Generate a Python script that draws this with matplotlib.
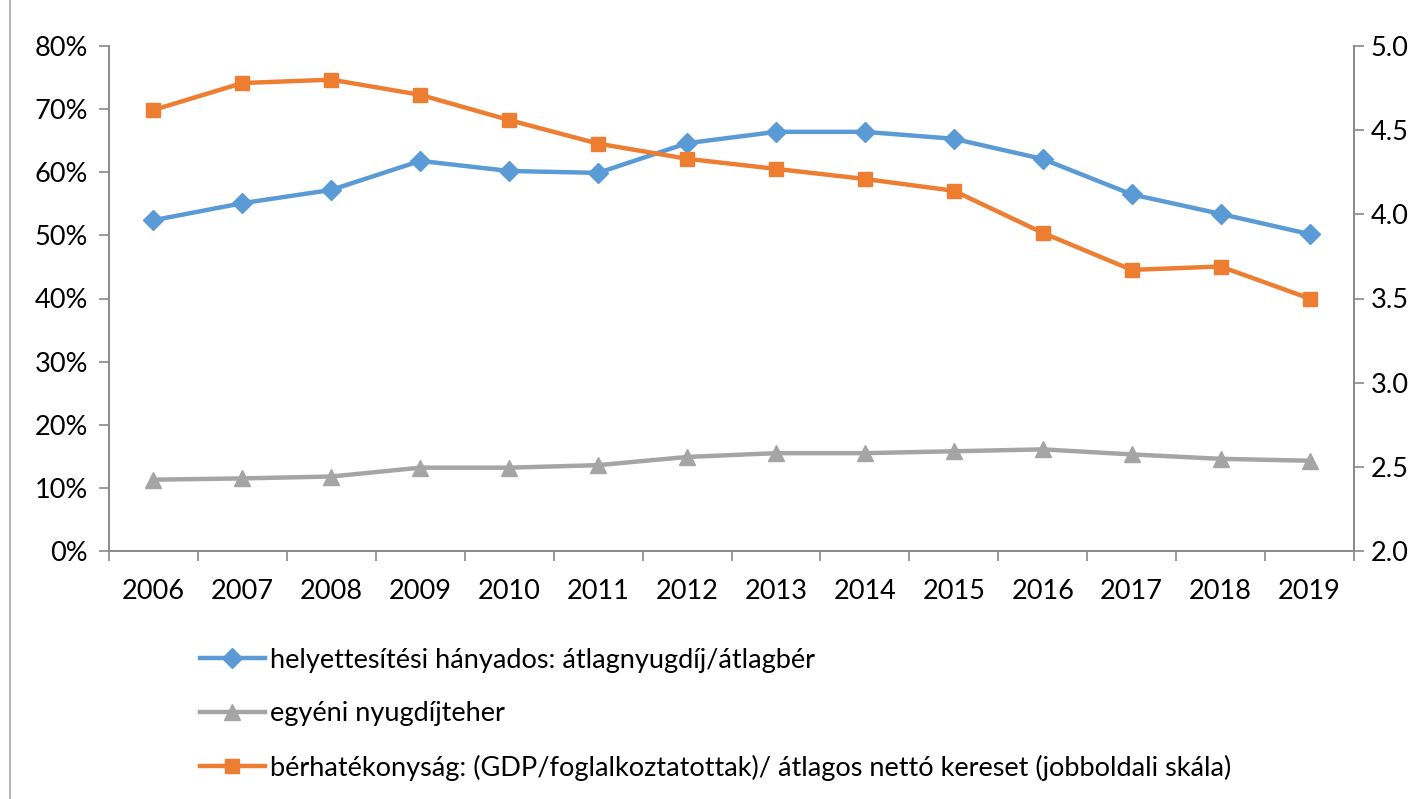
import matplotlib
matplotlib.use("Agg")
from matplotlib import pyplot as plt
from matplotlib.ticker import FuncFormatter, FixedLocator
from matplotlib.lines import Line2D

years = ["2006", "2007", "2008", "2009", "2010", "2011", "2012",
         "2013", "2014", "2015", "2016", "2017", "2018", "2019"]

# helyettesítési hányados (bal tengely, arány)
replacement = [0.524, 0.551, 0.572, 0.618, 0.602, 0.599, 0.646,
               0.664, 0.664, 0.653, 0.621, 0.565, 0.534, 0.502]

# egyéni nyugdíjteher (bal tengely, arány)
burden = [0.113, 0.115, 0.118, 0.132, 0.132, 0.136, 0.149,
          0.155, 0.155, 0.158, 0.161, 0.153, 0.146, 0.143]

# bérhatékonyság (jobb tengely)
efficiency = [4.62, 4.78, 4.80, 4.71, 4.56, 4.42, 4.33,
              4.27, 4.21, 4.14, 3.89, 3.67, 3.69, 3.50]

labels = ["helyettesítési hányados: átlagnyugdíj/átlagbér",
          "egyéni nyugdíjteher",
          "bérhatékonyság: (GDP/foglalkoztatottak)/ átlagos nettó kereset (jobboldali skála)"]

blue = "#5B9BD5"
gray = "#A5A5A5"
orange = "#ED7D31"
axis_col = "#898989"
lw = 3.2

plt.rcParams["font.family"] = ["Lato", "DejaVu Sans"]

fig = plt.figure(figsize=(14.24, 7.99), dpi=100)
ax = fig.add_axes([109 / 1424, 1 - 551 / 799, (1354 - 109) / 1424, (551 - 46) / 799])
ax2 = ax.twinx()

x = list(range(len(years)))
ax.plot(x, replacement, color=blue, lw=lw, marker="D", ms=10, zorder=3)
ax.plot(x, burden, color=gray, lw=lw, marker="^", ms=11, zorder=3)
ax2.plot(x, efficiency, color=orange, lw=lw, marker="s", ms=10.5, zorder=3)

ax.set_xlim(-0.5, len(years) - 0.5)
ax.set_ylim(0, 0.8)
ax2.set_ylim(2.0, 5.0)

ax.set_yticks([i / 10 for i in range(9)])
ax.yaxis.set_major_formatter(FuncFormatter(lambda v, p: f"{v * 100:.0f}%"))
ax2.set_yticks([2.0, 2.5, 3.0, 3.5, 4.0, 4.5, 5.0])
ax2.yaxis.set_major_formatter(FuncFormatter(lambda v, p: f"{v:.1f}"))

ax.set_xticks(x)
ax.set_xticklabels(years)
ax.xaxis.set_minor_locator(FixedLocator([i - 0.5 for i in range(len(years) + 1)]))
ax.tick_params(axis="x", which="major", length=0, pad=20, labelsize=19.5)
ax.tick_params(axis="x", which="minor", length=7, width=1.2, color=axis_col, direction="out")
ax.tick_params(axis="y", length=7, width=1.2, color=axis_col, pad=8, labelsize=19.5)
ax2.tick_params(axis="y", length=7, width=1.2, color=axis_col, pad=5, labelsize=19.5)

for a in (ax, ax2):
    a.spines["top"].set_visible(False)
    for s in ("left", "right", "bottom"):
        a.spines[s].set_color(axis_col)
        a.spines[s].set_linewidth(1.2)

handles = [Line2D([], [], color=blue, lw=lw, marker="D", ms=10),
           Line2D([], [], color=gray, lw=lw, marker="^", ms=11),
           Line2D([], [], color=orange, lw=lw, marker="s", ms=10.5)]
fig.legend(handles, labels, loc="upper left", bbox_to_anchor=(189 / 1424, 1 - 637 / 799),
           frameon=False, fontsize=19.5, handlelength=2.4, handletextpad=0.2,
           labelspacing=1.05, borderaxespad=0)

fig.add_artist(Line2D([10 / 1424, 10 / 1424], [0, 1], color="#A6A6A6", lw=1.2,
                      transform=fig.transFigure))

fig.savefig("out.png", dpi=100)
